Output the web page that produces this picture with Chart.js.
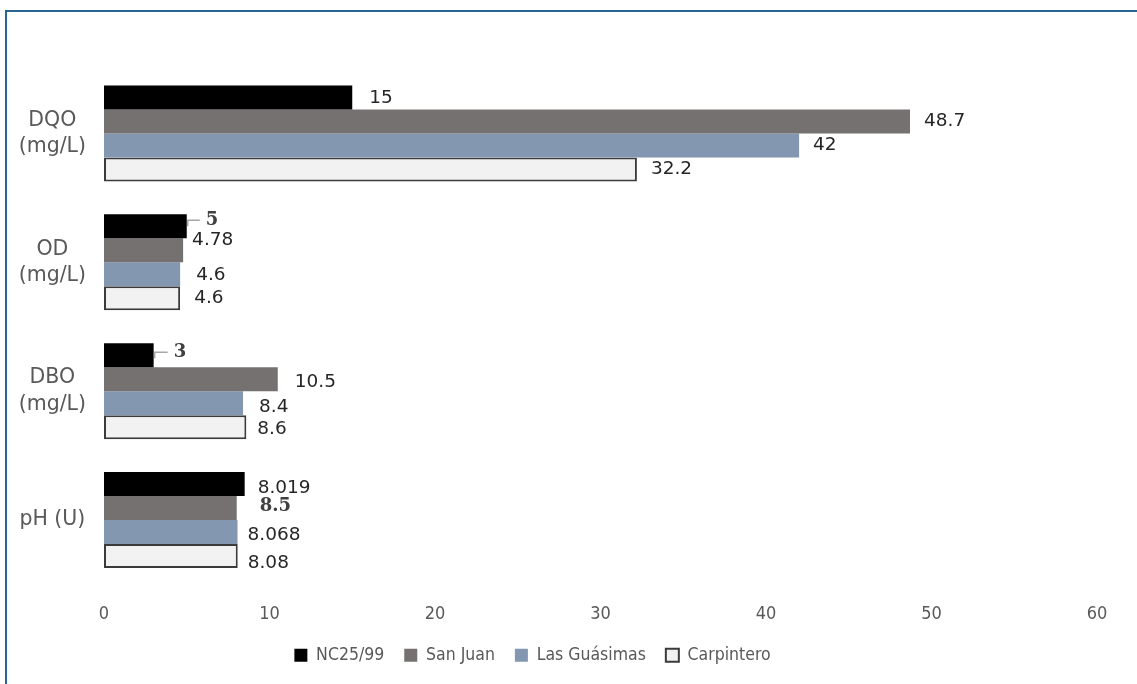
<!DOCTYPE html>
<html>
<head>
<meta charset="utf-8">
<script src="https://cdn.jsdelivr.net/npm/chart.js@4"></script>
<style>
  html, body { margin: 0; padding: 0; background: #fff; }
  #wrap { position: relative; width: 1137px; height: 684px; overflow: hidden; }
  #frame {
    position: absolute; left: 5px; top: 10px; width: 1200px; height: 700px;
    border-top: 2px solid #2a6592; border-left: 2px solid #2a6592;
  }
  canvas { position: absolute; left: 0; top: 0; }
</style>
</head>
<body>
<div id="wrap">
  <div id="frame"></div>
  <canvas id="chart" width="1137" height="684"></canvas>
</div>
<script>
// Data
const categories = [['DQO', '(mg/L)'], ['OD', '(mg/L)'], ['DBO', '(mg/L)'], 'pH (U)'];
const seriesNames = ['NC25/99', 'San Juan', 'Las Guásimas', 'Carpintero'];

const nc2599 = [15, 5, 3, 8.5];
const sanJuan = [48.7, 4.78, 10.5, 8.019];
const lasGuasimas = [42, 4.6, 8.4, 8.068];
const carpintero = [32.2, 4.6, 8.6, 8.08];

// texto de las etiquetas tal como aparece en la figura
const nc2599Labels = ['15', '5', '3', '8.019'];
const sanJuanLabels = ['48.7', '4.78', '10.5', '8.5'];
const lasGuasimasLabels = ['42', '4.6', '8.4', '8.068'];
const carpinteroLabels = ['32.2', '4.6', '8.6', '8.08'];

const xTicks = [0, 10, 20, 30, 40, 50, 60];

const COLORS = {
  nc: '#000000',
  sanJuan: '#767171',
  guasimas: '#8497b0',
  carpintero: '#f2f2f2',
  carpinteroBorder: '#3b3b3b',
  text: '#595959',
  label: '#262626',
};

const labelTexts = [nc2599Labels, sanJuanLabels, lasGuasimasLabels, carpinteroLabels];

// ajustes de posición de algunas etiquetas: "serie-categoria": [dx, dy, negrita, guia]
const labelTweaks = {
  '0-0': [17, 1],
  '0-1': [19, -6, true, true],
  '0-2': [20, -3, true, true],
  '1-1': [9, -10],
  '1-2': [17, 3],
  '2-1': [16, 1],
  '2-2': [16, 4],
  '3-2': [11, 2],
  '0-3': [13, 4],
  '1-3': [23, -2, true],
  '2-3': [10, 3],
  '3-3': [10, 7],
};

// Plugin de etiquetas de valores
const valueLabels = {
  id: 'valueLabels',
  afterLayout(chart) {
    // mover la leyenda un poco (en la figura no está centrada)
    const lg = chart.legend;
    lg.left -= 16;
    lg.right -= 16;
    lg.top += 6;
    lg.bottom += 6;
  },
  afterDatasetsDraw(chart) {
    const ctx = chart.ctx;
    ctx.save();
    ctx.textBaseline = 'middle';
    ctx.textAlign = 'left';
    chart.data.datasets.forEach((ds, i) => {
      const meta = chart.getDatasetMeta(i);
      meta.data.forEach((bar, j) => {
        const tw = labelTweaks[i + '-' + j] || [14, 0];
        const dx = tw[0], dy = tw[1];
        const bold = tw[2], guide = tw[3];
        const x = bar.x + dx;
        const y = bar.y + dy;
        if (guide) {
          ctx.strokeStyle = '#a6a6a6';
          ctx.lineWidth = 1.5;
          ctx.beginPath();
          ctx.moveTo(bar.x + 1, y + 6);
          ctx.lineTo(bar.x + 1, y);
          ctx.lineTo(x - 6, y);
          ctx.stroke();
        }
        ctx.fillStyle = bold ? '#404040' : COLORS.label;
        ctx.font = bold ? 'bold 18px "DejaVu Serif"' : '18.5px "DejaVu Sans"';
        ctx.fillText(labelTexts[i][j], x, y);
      });
    });
    ctx.restore();
  },
};

const data = {
  labels: categories,
  datasets: [
    { label: seriesNames[0], data: nc2599, backgroundColor: COLORS.nc, borderWidth: 0 },
    { label: seriesNames[1], data: sanJuan, backgroundColor: COLORS.sanJuan, borderWidth: 0 },
    { label: seriesNames[2], data: lasGuasimas, backgroundColor: COLORS.guasimas, borderWidth: 0 },
    {
      label: seriesNames[3],
      data: carpintero,
      backgroundColor: COLORS.carpintero,
      borderColor: COLORS.carpinteroBorder,
      borderWidth: 2,
    },
  ],
};

// Config
const config = {
  type: 'bar',
  data: data,
  plugins: [valueLabels],
  options: {
    indexAxis: 'y',
    responsive: false,
    animation: false,
    layout: { padding: { left: 0, right: 40, top: 69, bottom: 16 } },
    datasets: {
      bar: { categoryPercentage: 0.745, barPercentage: 1.0, borderSkipped: false },
    },
    plugins: {
      tooltip: { enabled: false },
      legend: {
        position: 'bottom',
        labels: {
          boxWidth: 13,
          boxHeight: 13,
          padding: 20,
          color: COLORS.text,
          font: { family: '"DejaVu Sans Condensed", sans-serif', size: 17.5 },
        },
      },
    },
    scales: {
      x: {
        min: 0,
        max: 60,
        afterBuildTicks(scale) {
          scale.ticks = xTicks.map((v) => ({ value: v }));
        },
        afterFit(scale) {
          scale.height = 36;
        },
        grid: { display: false, drawTicks: false },
        border: { display: false },
        ticks: {
          padding: 19,
          color: COLORS.text,
          maxRotation: 0,
          font: { family: '"DejaVu Sans Condensed", sans-serif', size: 18 },
        },
      },
      y: {
        afterFit(scale) {
          scale.width = 104;
        },
        grid: { display: false, drawTicks: false },
        border: { display: false },
        ticks: {
          crossAlign: 'center',
          padding: 18,
          color: COLORS.text,
          font: { family: '"DejaVu Sans"', size: 20.5, lineHeight: 1.27 },
        },
      },
    },
  },
};

// Chart oluşturma
const chart = new Chart(document.getElementById('chart'), config);
</script>
</body>
</html>
